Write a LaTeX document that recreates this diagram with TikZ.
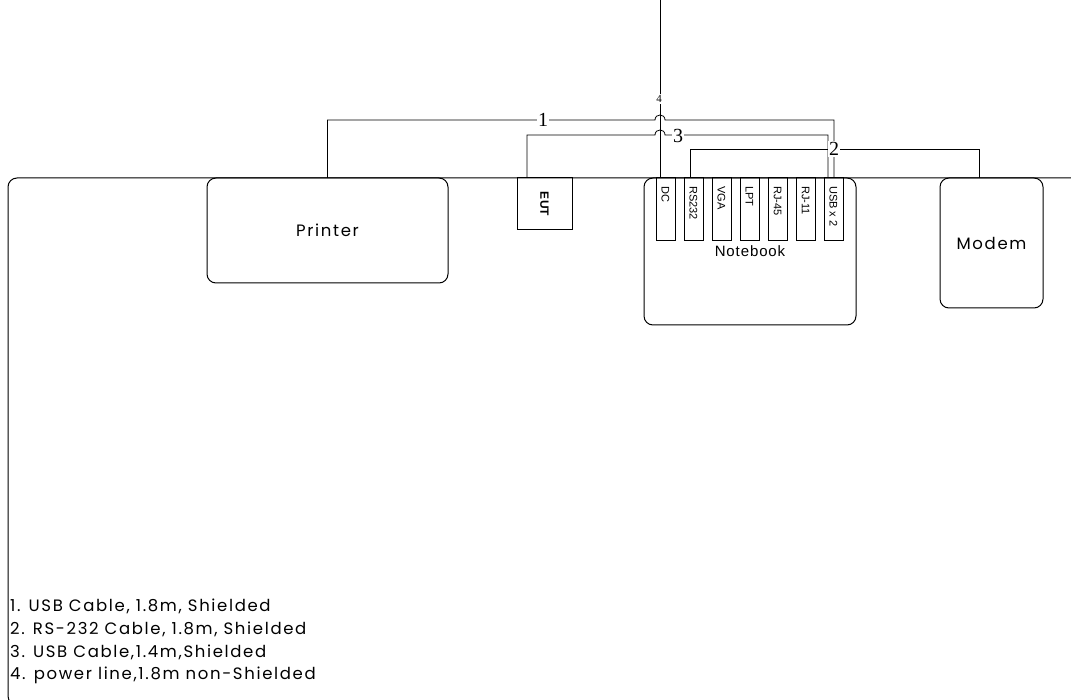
\documentclass[tikz,border=0pt]{standalone}
\usepackage{fontspec}
\setmainfont{Liberation Serif}
\newfontfamily\gothic[LetterSpace=10]{Poppins}
\newfontfamily\arial{Liberation Sans}
\newfontfamily\arialsp[LetterSpace=6]{Liberation Sans}
\usetikzlibrary{calc}
\begin{document}
\begin{tikzpicture}[x=1pt,y=-1pt,
  box/.style={draw, line width=1pt, inner sep=0pt, outer sep=0pt, anchor=north west},
  rbox/.style={box, rounded corners=9pt},
  port/.style={draw, line width=1pt, minimum width=19pt, minimum height=63pt, inner sep=0pt, outer sep=0pt, anchor=north west},
  porttext/.style={font=\arial\fontsize{11}{11}\selectfont, rotate=-90, anchor=west, inner sep=0pt},
  cable/.style={line width=0.8pt},
  clabel/.style={fill=white, inner sep=1pt, font=\fontsize{20}{20}\selectfont},
  gtext/.style={font=\gothic\fontsize{16.5}{16.5}\selectfont}
]
\useasboundingbox (0,0) rectangle (1071,700);
\clip (0,0) rectangle (1071,700);
% table
\node[rbox, minimum width=1082pt, minimum height=527pt] (table) at (8,178) {};
% devices
\node[rbox, minimum width=241pt, minimum height=105pt, gtext] (printer) at (207,178) {Printer};
\node[box, minimum width=55pt, minimum height=52pt] (eut) at (517,178) {};
\node[font=\arial\bfseries\fontsize{12}{12}\selectfont, rotate=-90, inner sep=0pt] (euttext) at (eut.center) {EUT};
\node[rbox, minimum width=212pt, minimum height=147pt] (notebook) at (644,178) {};
\node[font=\arialsp\fontsize{15}{15}\selectfont, inner sep=0pt] (nbtext) at (750,251) {Notebook};
\node[rbox, minimum width=103pt, minimum height=130pt, gtext] (modem) at (940,178) {Modem};
% ports
\foreach \nm/\lab/\px in {dc/DC/656, rs/RS232/684, vga/VGA/712, lpt/LPT/740, rjf/RJ-45/768, rje/RJ-11/796, usb/USB x 2/824}{
  \node[port] (\nm) at (\px,178) {};
  \node[porttext] (\nm t) at ($(\nm.north)+(0,8)$) {\lab};
}
% cable 4
\coordinate (ptop) at (660,0);
\draw[cable] (ptop) -- ($(dc.north west)+(4,0)$);
\node[fill=white, inner sep=1pt, font=\fontsize{11}{11}\selectfont] (l4) at (659,99) {4};
% cable 1
\draw[cable] (printer.north) |- (655,120) .. controls (655,113.3) and (665,113.3) .. (665,120) -| ($(usb.north west)+(10,0)$);
% cable 3
\draw[cable] ($(eut.north west)+(10,0)$) |- (655,135) .. controls (655,128.3) and (665,128.3) .. (665,135) -| ($(usb.north west)+(4,0)$);
% cable 2
\draw[cable] ($(rs.north west)+(6,0)$) -- ++(0,-29) -| ($(modem.north west)+(39,0)$);
% labels
\node[clabel] (l1) at (543,120) {1};
\node[clabel] (l3) at (678,136) {3};
\node[clabel] (l2) at (834,149) {2};
% legend
\node[gtext, anchor=west, inner sep=0pt] (leg1) at (10,606) {1. USB Cable, 1.8m, Shielded};
\node[gtext, anchor=west, inner sep=0pt] (leg2) at (10,629) {2. RS-232 Cable, 1.8m, Shielded};
\node[gtext, anchor=west, inner sep=0pt] (leg3) at (10,652) {3. USB Cable,1.4m,Shielded};
\node[gtext, anchor=west, inner sep=0pt] (leg4) at (10,675) {4. power line,1.8m non-Shielded};
\end{tikzpicture}
\end{document}
